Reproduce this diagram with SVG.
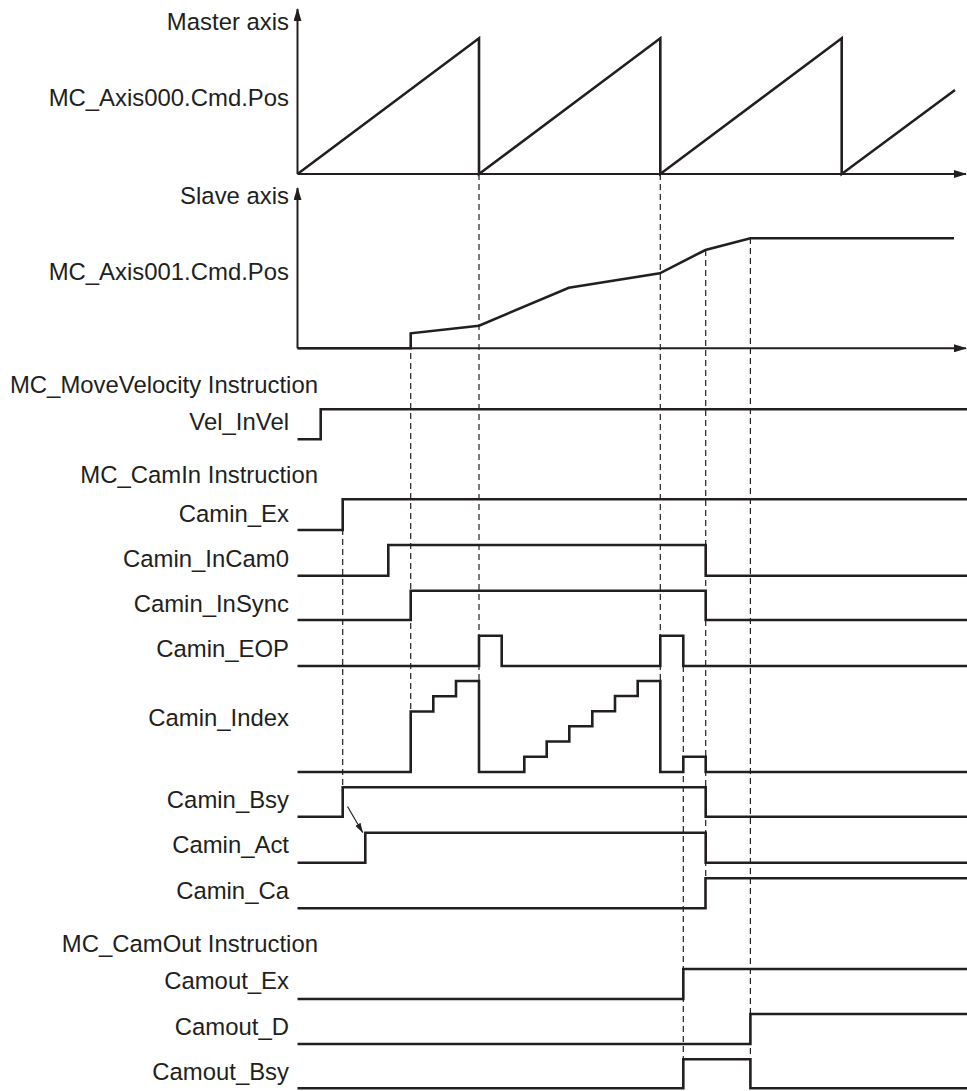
<svg xmlns="http://www.w3.org/2000/svg" width="967" height="1091" viewBox="0 0 967 1091">
<style>
text{font-family:"Liberation Sans",Arial,sans-serif;font-size:23.9px;fill:#231f20}
.lbl{text-anchor:end}
.sig{fill:none;stroke:#231f20;stroke-width:2.6;stroke-linejoin:miter}
.ax{fill:none;stroke:#231f20;stroke-width:2}
.dash{fill:none;stroke:#231f20;stroke-width:1.2;stroke-dasharray:6 4}
</style>
<defs>
<marker id="ah" viewBox="0 0 13 8" refX="12" refY="4" markerWidth="13" markerHeight="8" markerUnits="userSpaceOnUse" orient="auto">
<path d="M0,0 L13,4 L0,8 Z" fill="#231f20"/>
</marker>
<marker id="ahs" viewBox="0 0 10 6" refX="9.5" refY="3" markerWidth="10" markerHeight="6" markerUnits="userSpaceOnUse" orient="auto">
<path d="M0,0 L10,3 L0,6 Z" fill="#231f20"/>
</marker>
</defs>
<g id="connectors">
<line class="dash" x1="342.7" y1="499" x2="342.7" y2="787"/>
<line class="dash" x1="410.7" y1="333" x2="410.7" y2="772"/>
<line class="dash" x1="479" y1="174" x2="479" y2="772"/>
<line class="dash" x1="660.3" y1="174" x2="660.3" y2="772"/>
<line class="dash" x1="683.3" y1="636" x2="683.3" y2="1059"/>
<line class="dash" x1="705.7" y1="250" x2="705.7" y2="878"/>
<line class="dash" x1="750.4" y1="238" x2="750.4" y2="1059"/>
<line x1="347.5" y1="806.5" x2="362.7" y2="832.5" stroke="#231f20" stroke-width="1.2" marker-end="url(#ahs)"/>
</g>
<g id="master">
<text class="lbl" x="289" y="30">Master axis</text>
<text class="lbl" x="289" y="106">MC_Axis000.Cmd.Pos</text>
<line class="ax" x1="297.5" y1="174" x2="297.5" y2="9" marker-end="url(#ah)"/>
<line class="ax" x1="297.5" y1="174" x2="966" y2="174" marker-end="url(#ah)"/>
<path class="sig" d="M297.5,174 L479,38.3 V174 L660.3,38.3 V174 L841.7,38.3 V174 L955,90"/>
</g>
<g id="slave">
<text class="lbl" x="289" y="204">Slave axis</text>
<text class="lbl" x="289" y="280">MC_Axis001.Cmd.Pos</text>
<line class="ax" x1="297.5" y1="348.3" x2="297.5" y2="188" marker-end="url(#ah)"/>
<line class="ax" x1="297.5" y1="348.3" x2="966" y2="348.3" marker-end="url(#ah)"/>
<path class="sig" d="M297.5,348.3 H410.7 V333.3 L479,325.7 L568.8,287.7 L659.8,273.3 L705.4,250 L750.4,238.3 H954"/>
</g>
<g id="hdr_movevelocity"><text class="lbl" x="318" y="393.3">MC_MoveVelocity Instruction</text></g>
<g id="vel_invel">
<text class="lbl" x="289" y="430">Vel_InVel</text>
<path class="sig" d="M297.5,439.3 H320.7 V409.3 H967"/>
</g>
<g id="hdr_camin"><text class="lbl" x="318" y="483.3">MC_CamIn Instruction</text></g>
<g id="camin_ex">
<text class="lbl" x="289" y="521.7">Camin_Ex</text>
<path class="sig" d="M297.5,530 H342.7 V499.3 H967"/>
</g>
<g id="camin_incam0">
<text class="lbl" x="289" y="566.7">Camin_InCam0</text>
<path class="sig" d="M297.5,575.7 H388.3 V545 H705.7 V575.7 H967"/>
</g>
<g id="camin_insync">
<text class="lbl" x="289" y="611.7">Camin_InSync</text>
<path class="sig" d="M297.5,620 H410.7 V590.7 H705.7 V620 H967"/>
</g>
<g id="camin_eop">
<text class="lbl" x="289" y="657">Camin_EOP</text>
<path class="sig" d="M297.5,666 H479 V635.7 H501.7 V666 H660.3 V635.7 H683.3 V666 H967"/>
</g>
<g id="camin_index">
<text class="lbl" x="289" y="726">Camin_Index</text>
<path class="sig" d="M297.5,772 H410.7 V711.5 H433.3 V696.3 H456 V681 H479 V772 H524.3 V756.7 H546.7 V741.5 H569.3 V726.3 H592.3 V711.2 H615 V696 H637.7 V681 H660.3 V772 H683.3 V756.7 H705.7 V772 H967"/>
</g>
<g id="camin_bsy">
<text class="lbl" x="289" y="808.3">Camin_Bsy</text>
<path class="sig" d="M297.5,816.7 H342.7 V787.3 H705.7 V816.7 H967"/>
</g>
<g id="camin_act">
<text class="lbl" x="289" y="853.3">Camin_Act</text>
<path class="sig" d="M297.5,862.7 H365.3 V832.7 H705.7 V862.7 H967"/>
</g>
<g id="camin_ca">
<text class="lbl" x="289" y="899.3">Camin_Ca</text>
<path class="sig" d="M297.5,908.3 H705.5 V878.3 H967"/>
</g>
<g id="hdr_camout"><text class="lbl" x="318" y="951.7">MC_CamOut Instruction</text></g>
<g id="camout_ex">
<text class="lbl" x="289" y="989.3">Camout_Ex</text>
<path class="sig" d="M297.5,999 H683.3 V969 H967"/>
</g>
<g id="camout_d">
<text class="lbl" x="289" y="1035">Camout_D</text>
<path class="sig" d="M297.5,1044 H750.4 V1014 H967"/>
</g>
<g id="camout_bsy">
<text class="lbl" x="289" y="1080">Camout_Bsy</text>
<path class="sig" d="M297.5,1088.3 H683.3 V1059.3 H750.4 V1088.3 H967"/>
</g>
</svg>
